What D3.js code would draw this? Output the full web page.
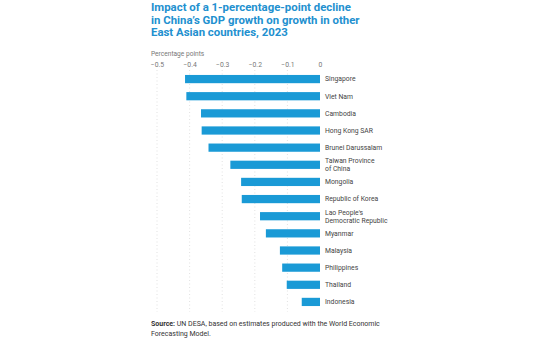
<!DOCTYPE html>
<html>
<head>
<meta charset="utf-8">
<script src="https://cdn.jsdelivr.net/npm/d3@7"></script>
<style>
  body { margin: 0; background: #fff; }
  svg { display: block; font-family: Roboto, "Noto Sans", sans-serif; }
</style>
</head>
<body>
<div id="chart"></div>
<script>
const countries = [
  ["Singapore"], ["Viet Nam"], ["Cambodia"], ["Hong Kong SAR"], ["Brunei Darussalam"],
  ["Taiwan Province", "of China"], ["Mongolia"], ["Republic of Korea"],
  ["Lao People's", "Democratic Republic"], ["Myanmar"], ["Malaysia"],
  ["Philippines"], ["Thailand"], ["Indonesia"]
];
const impact = [-0.414, -0.41, -0.365, -0.363, -0.342, -0.275, -0.242, -0.24,
  -0.184, -0.166, -0.123, -0.116, -0.102, -0.056];
const ticks = [-0.5, -0.4, -0.3, -0.2, -0.1, 0];
const titleLines = [
  "Impact of a 1-percentage-point decline",
  "in China\u2019s GDP growth on growth in other",
  "East Asian countries, 2023"
];

const width = 540, height = 340;
const svg = d3.select("#chart").append("svg")
  .attr("width", width).attr("height", height);

const x = d3.scaleLinear().domain([-0.5, 0]).range([157, 320]);
const y = d3.scaleBand().domain(d3.range(countries.length))
  .range([70.5, 310.5]).paddingInner(0.52).paddingOuter(0.26);

// title
svg.append("g").selectAll("text").data(titleLines).join("text")
  .attr("x", 151).attr("y", (d, i) => 11 + i * 12.6)
  .attr("font-size", "11.4px").attr("font-weight", 700)
  .attr("fill", "#2290cf").text(d => d);

svg.append("text").attr("x", 151).attr("y", 55.5)
  .attr("font-size", "6.6px").attr("fill", "#777").text("Percentage points");

// grid
svg.append("g").selectAll("line").data(ticks.slice(0, -1)).join("line")
  .attr("x1", d => x(d)).attr("x2", d => x(d))
  .attr("y1", 70).attr("y2", 312)
  .attr("stroke", "#d4d4d4").attr("stroke-width", 0.7)
  .attr("stroke-dasharray", "1,2.5");

// axis
const axis = svg.append("g").attr("transform", "translate(0,66.5)")
  .call(d3.axisTop(x).tickValues(ticks).tickSize(0).tickPadding(0)
    .tickFormat(d => d === 0 ? "0" : d3.format(".1f")(d)));
axis.select(".domain").remove();
axis.selectAll("text").attr("font-size", "6.8px").attr("fill", "#777")
  .attr("font-family", "Roboto, sans-serif");

// bars
svg.append("g").selectAll("rect").data(impact).join("rect")
  .attr("x", d => x(d)).attr("width", d => x(0) - x(d))
  .attr("y", (d, i) => y(i)).attr("height", y.bandwidth())
  .attr("fill", "#1a9ad6");

// labels
const lab = svg.append("g").selectAll("text").data(countries).join("text")
  .attr("x", 325)
  .attr("y", (d, i) => y(i) + y.bandwidth() / 2 + 2.4 - (d.length - 1) * 4)
  .attr("font-size", "6.8px").attr("fill", "#444");
lab.selectAll("tspan").data(d => d).join("tspan")
  .attr("x", 325).attr("dy", (d, i) => i ? 8 : 0).text(d => d);

// source
const src = svg.append("text").attr("x", 151).attr("y", 326)
  .attr("font-size", "7px").attr("fill", "#333");
src.append("tspan").attr("font-weight", 700).text("Source:");
src.append("tspan").text(" UN DESA, based on estimates produced with the World Economic");
svg.append("text").attr("x", 151).attr("y", 335.5)
  .attr("font-size", "7px").attr("fill", "#333").text("Forecasting Model.");
</script>
</body>
</html>
